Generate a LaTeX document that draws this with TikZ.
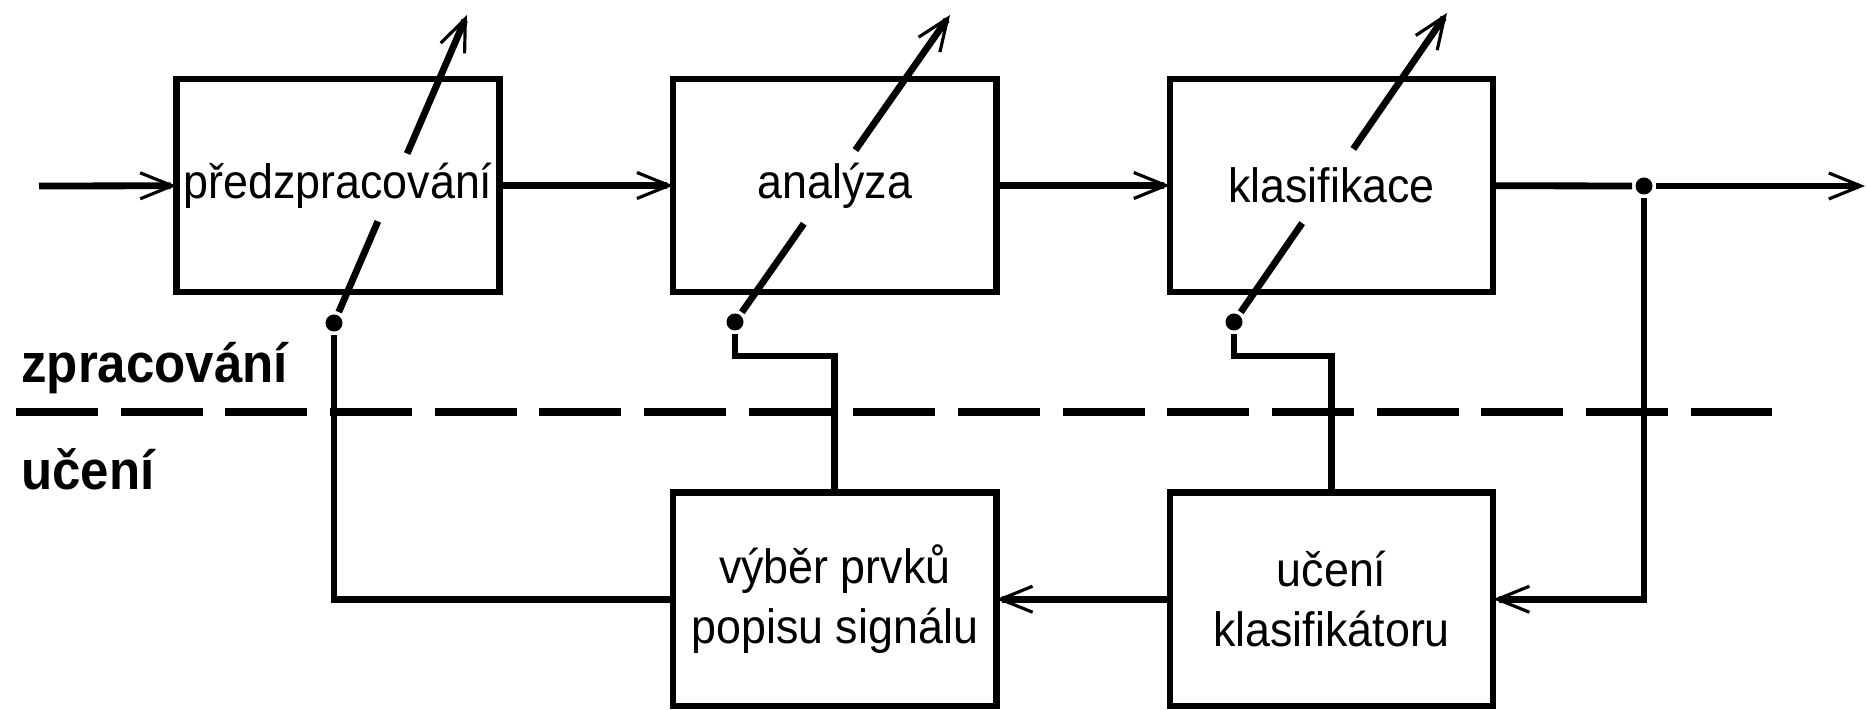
\documentclass[tikz,border=0pt]{standalone}
\usepackage{fontspec}
\setmainfont[FakeStretch=0.93]{Liberation Sans}
\usepackage{tikz}
\usetikzlibrary{arrows.meta,positioning,calc}

\begin{document}
\begin{tikzpicture}[x=0.01cm,y=-0.01cm,line width=0.068cm,
        >={Straight Barb[length=0.32cm,width=0.26cm,line width'=0.9pt]},
        blok/.style={rectangle, draw, line width=0.065cm, outer sep=0pt, inner sep=1pt,
                     minimum width=3.23cm, minimum height=2.13cm, align=center,
                     font=\fontsize{13.7pt}{17pt}\selectfont},
        bod/.style={circle, fill, inner sep=0pt, minimum size=0.17cm},
        popis/.style={anchor=base west, inner sep=0pt,
                      font=\bfseries\fontsize{15.6pt}{18pt}\selectfont}]
        \useasboundingbox (0,0) rectangle (1867,710);
        \node[blok] (pre) at (338,185.5) {předzpracování};
        \node[blok, right = 1.735cm of pre] (ana) {analýza};
        \node[blok, right = 1.735cm of ana] (kla) {klasifikace};
        \node[blok, below = 2.005cm of ana] (vyb) {výběr prvků\\popisu signálu};
        \node[blok, below = 2.005cm of kla] (uce) {učení\\klasifikátoru};
        \node[popis] (zpr) at (18,383) {zpracování};
        \node[popis] (uc) at (18,490) {učení};
        \coordinate (in) at (39,186);
        \coordinate (out) at (1865,186);
        \node[bod] (spl) at (1644,186) {};
        \node[bod] (pa) at (334,323) {};
        \node[bod] (pb) at (735,322) {};
        \node[bod] (pc) at (1234,322) {};
        \coordinate (ta) at (467,15);
        \coordinate (tb) at (950,15);
        \coordinate (tc) at (1447,13);
        \draw[line width=0.08cm, dash pattern=on 0.82cm off 0.226cm] (16,412) -- (1772,412);
        \draw[->] (in) -- (pre);
        \draw[->] (pre) -- (ana);
        \draw[->] (ana) -- (kla);
        \draw (kla) -- (spl);
        \draw[->] (spl) -- (out);
        \draw[->] (spl) |- (uce);
        \draw[->] (uce) -- (vyb);
        \draw (vyb) -| (pa);
        \draw (vyb.north) |- (pb |- 0,356) -- (pb);
        \draw (uce.north) |- (pc |- 0,356) -- (pc);
        \draw (pa) -- ($(pa)!0.33!(ta)$);
        \draw[->] ($(pa)!0.55!(ta)$) -- (ta);
        \draw (pb) -- ($(pb)!0.32!(tb)$);
        \draw[->] ($(pb)!0.56!(tb)$) -- (tb);
        \draw (pc) -- ($(pc)!0.32!(tc)$);
        \draw[->] ($(pc)!0.56!(tc)$) -- (tc);
\end{tikzpicture}
\end{document}
